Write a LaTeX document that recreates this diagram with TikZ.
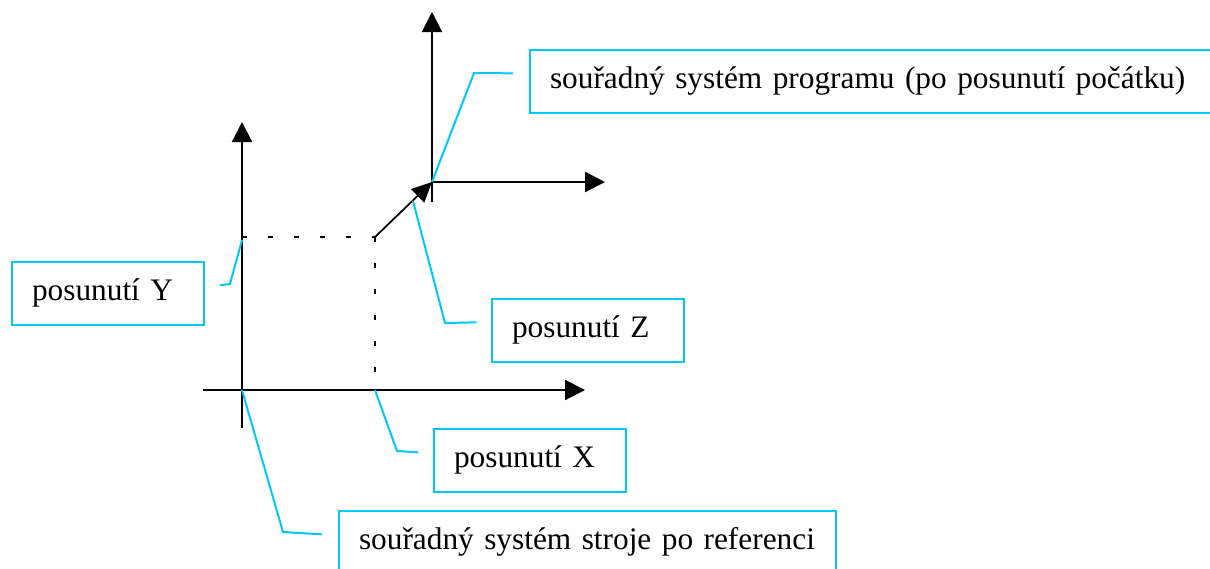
\documentclass[tikz,border=0pt]{standalone}
\usepackage{fontspec}
\setmainfont{Liberation Serif}
\usetikzlibrary{arrows.meta}
\definecolor{leadcyan}{RGB}{0,200,250}

\begin{document}
\begin{tikzpicture}[
    x=0.75pt, y=-0.75pt,
    font=\fontsize{23.5}{27}\selectfont,
    axis/.style    ={line width=1.6pt, -{Triangle[length=15pt,width=15pt]}},
    offarrow/.style={line width=1.3pt, -{Triangle[length=15pt,width=14pt]}},
    dots/.style    ={line width=1.6pt, dash pattern=on 3.5pt off 16pt},
    callbox/.style ={draw=leadcyan, line width=1.5pt, anchor=north west, minimum height=47pt, inner xsep=15pt, inner ysep=0pt, align=left},
    lead/.style    ={draw=leadcyan, line width=1.5pt},
  ]
  \clip (0,0) rectangle (1210,568);
  % machine system
  \coordinate (m-o)     at (242,390);
  \coordinate (m-top)   at (242,122);
  \coordinate (m-bot)   at (242,428);
  \coordinate (m-left)  at (203,390);
  \coordinate (m-right) at (585,390);
  % program system (shifted origin)
  \coordinate (p-o)     at (432,182);
  \coordinate (p-top)   at (432,12);
  \coordinate (p-bot)   at (432,202);
  \coordinate (p-right) at (605,182);
  % offsets
  \coordinate (off)   at (375,237);
  \coordinate (off-y) at (242,237);
  \coordinate (off-x) at (375,390);
  \coordinate (off-z) at (413,201);
  % axes
  \draw[axis] (m-bot) -- (m-top);
  \draw[axis] (m-left) -- (m-right);
  \draw[axis] (p-bot) -- (p-top);
  \draw[axis] (p-o) -- (p-right);
  \draw[dots] (off-y) -- (off);
  \draw[dots] (off) -- (off-x);
  \draw[offarrow] (off) -- (p-o);
  % labels
  \node[callbox, text width=487.5pt] (l-prog) at (529,49)  {souřadný systém programu (po posunutí počátku)};
  \node[callbox, text width=114pt]   (l-y)    at (11,261)  {posunutí Y};
  \node[callbox, text width=114pt]   (l-z)    at (491,298) {posunutí Z};
  \node[callbox, text width=114pt]   (l-x)    at (433,428) {posunutí X};
  \node[callbox, text width=342.75pt](l-ref)  at (338,510) {souřadný systém stroje po referenci};
  % leaders
  \draw[lead] ([xshift=-12pt,yshift=6pt]l-prog.west) -- (474,73) -- (p-o);
  \draw[lead] ([xshift=11pt,yshift=6pt]l-y.east) -- (230,284) -- (242,240);
  \draw[lead] ([xshift=-11pt,yshift=6pt]l-z.west) -- (445,323) -- (off-z);
  \draw[lead] ([xshift=-11pt,yshift=6pt]l-x.west) -- (397,451) -- (off-x);
  \draw[lead] ([xshift=-12pt,yshift=6pt]l-ref.west) -- (283,532) -- (m-o);
\end{tikzpicture}
\end{document}
